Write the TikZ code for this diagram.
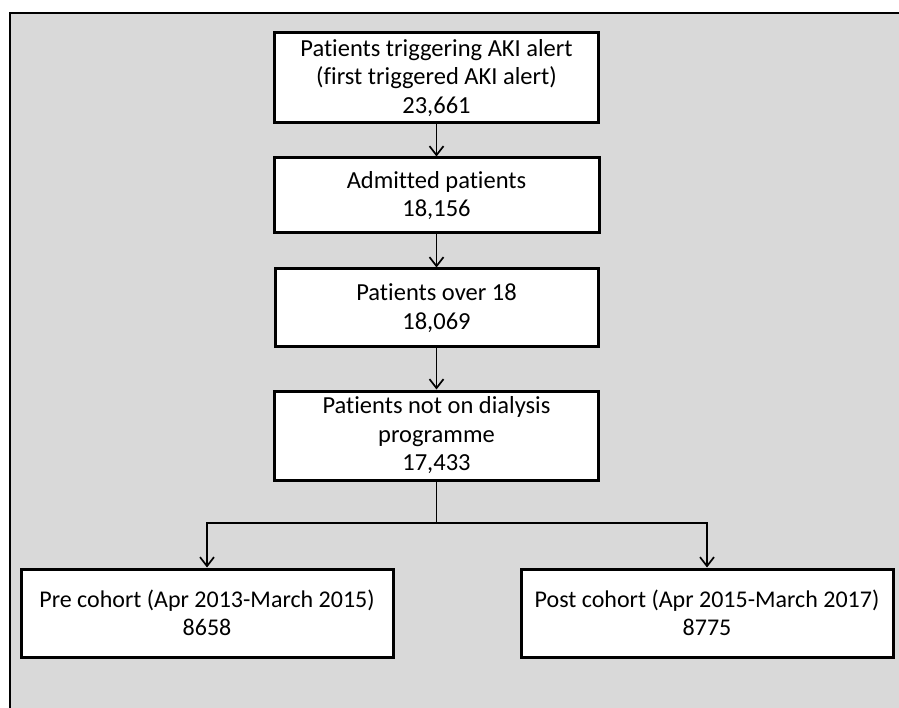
\documentclass[tikz,border=0pt]{standalone}
\usepackage{fontspec}
\setmainfont{Carlito}[Ligatures=NoCommon]
\usetikzlibrary{arrows.meta}
\definecolor{panelgray}{HTML}{D9D9D9}
\begin{document}
\begin{tikzpicture}[x=1pt,y=-1pt,
  box/.style={draw=black, line width=3pt, fill=white, rectangle, align=center,
    inner sep=0pt, font=\fontsize{24.5}{28.5}\selectfont},
  wide/.style={box, font=\fontsize{24}{28.5}\selectfont},
  flow/.style={draw=black, line width=1.7pt, -{Straight Barb[length=9pt,width=14pt,line width=1.7pt]}},
  link/.style={draw=black, line width=1.7pt}]
\useasboundingbox (0,0) rectangle (899,708);
\fill[white] (0,0) rectangle (899,708);
\fill[panelgray] (10,13) rectangle (899,708);
\draw[line width=2.6pt] (10,708) -- (10,13) -- (899,13);

\node[box, minimum width=324pt, minimum height=90pt] (b1) at (436.5,78)
  {Patients triggering AKI alert\\(first triggered AKI alert)\\23,661};
\node[box, minimum width=325pt, minimum height=75pt] (b2) at (436.5,195.5)
  {Admitted patients\\18,156};
\node[box, minimum width=323pt, minimum height=78pt] (b3) at (436.5,308)
  {Patients over 18\\18,069};
\node[box, minimum width=324pt, minimum height=89pt] (b4) at (436.5,435.5)
  {Patients not on dialysis\\programme\\17,433};
\node[wide, minimum width=372pt, minimum height=88pt] (b5) at (207,613)
  {Pre cohort (Apr 2013-March 2015)\\8658};
\node[wide, minimum width=372pt, minimum height=88pt] (b6) at (707,613)
  {Post cohort (Apr 2015-March 2017)\\8775};

\coordinate (split) at (436.5,523);
\draw[flow] (b1.south) -- (b2.north);
\draw[flow] (b2.south) -- (b3.north);
\draw[flow] (b3.south) -- (b4.north);
\draw[link] (b4.south) -- (split);
\draw[flow] (split) -| (b5.north);
\draw[flow] (split) -| (b6.north);
\end{tikzpicture}
\end{document}
